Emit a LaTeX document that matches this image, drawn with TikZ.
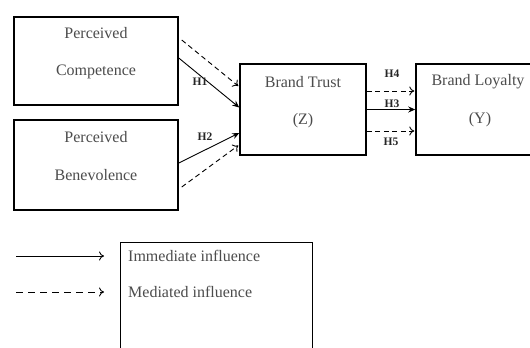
\documentclass[tikz,border=0pt]{standalone}
\usepackage{fontspec}
\setmainfont{Liberation Serif}
\usetikzlibrary{arrows.meta,calc}
\begin{document}
\begin{tikzpicture}[x=1bp,y=-1bp,
  box/.style={draw=black,line width=1.5bp,minimum width=#1,inner sep=0pt},
  txt/.style={text=black!70,font=\fontsize{16bp}{18bp}\selectfont,inner sep=0pt},
  hlab/.style={text=black!85,font=\bfseries\fontsize{11.5bp}{12bp}\selectfont,inner sep=0pt},
  solidarr/.style={line width=0.9bp,-{Stealth[length=7bp,width=6bp]}},
  dasharr/.style={line width=0.9bp,dash pattern=on 5bp off 3.5bp,-{To[length=5bp,width=9bp]}},
  legarr/.style={line width=0.9bp,-{To[length=5bp,width=9bp]}}
]
\clip (0,0) rectangle (530,347);
\fill[white] (0,0) rectangle (530,347);
% boxes
\node[box=164bp,minimum height=88bp] (comp) at (96,61) {};
\node[box=164bp,minimum height=90bp] (bene) at (96,165) {};
\node[box=126bp,minimum height=91bp] (trust) at (303,109.5) {};
\node[box=124bp,minimum height=91bp] (loyal) at (478,109.5) {};
\node[draw=black,line width=0.8bp,minimum width=192bp,minimum height=118bp,inner sep=0pt] (legend) at (216,301) {};
% texts
\node[txt] (t1) at (96,33) {Perceived};
\node[txt] (t2) at (96,72) {Competence};
\node[txt] (t3) at (96,137) {Perceived};
\node[txt] (t4) at (96,175) {Benevolence};
\node[txt] (t5) at (303,82) {Brand Trust};
\node[txt] (t6) at (303,121) {(Z)};
\node[txt] (t7) at (478,82) {Brand Loyalty};
\node[txt] (t8) at (480,120) {(Y)};
\node[txt,anchor=west] (l1) at (128,256) {Immediate influence};
\node[txt,anchor=west] (l2) at (128,292) {Mediated influence};
% arrows
\draw[dasharr] ($(comp.east)+(3,-21)$) -- ($(trust.west)+(-1,-23.5)$);
\draw[solidarr] ($(comp.east)+(0,-3)$) -- ($(trust.west)+(0,-2)$);
\draw[solidarr] ($(bene.east)+(0,-2)$) -- ($(trust.west)+(0,23.5)$);
\draw[dasharr] ($(bene.east)+(3,22)$) -- ($(trust.west)+(-1,36)$);
\draw[dasharr] ($(trust.east)+(0,-18.5)$) -- ($(loyal.west)+(-1,-18.5)$);
\draw[solidarr] (trust.east) -- (loyal.west);
\draw[dasharr] ($(trust.east)+(0,21.5)$) -- ($(loyal.west)+(-1,21.5)$);
\node[hlab] (h1) at (200,82) {H1};
\node[hlab] (h2) at (205,137) {H2};
\node[hlab] (h4) at (392,74) {H4};
\node[hlab] (h3) at (392,104) {H3};
\node[hlab] (h5) at (391,142) {H5};
% legend arrows
\coordinate (a1) at (16,256);
\coordinate (b1) at (104,256);
\coordinate (a2) at (16,292);
\coordinate (b2) at (104,292);
\draw[legarr] (a1) -- (b1);
\draw[legarr,dash pattern=on 7bp off 5bp] (a2) -- (b2);
\end{tikzpicture}
\end{document}
